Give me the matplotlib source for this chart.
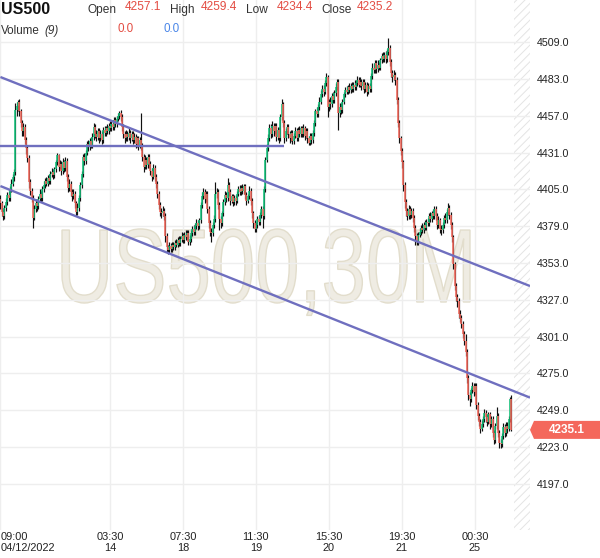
import matplotlib
matplotlib.use("Agg")
import matplotlib.pyplot as plt
import numpy as np
from matplotlib.font_manager import FontProperties
from matplotlib.patches import PathPatch, Polygon
from matplotlib.textpath import TextPath
from matplotlib.transforms import Affine2D, blended_transform_factory

plt.rcParams["font.family"] = ["Liberation Sans", "DejaVu Sans"]
plt.rcParams["hatch.linewidth"] = 0.7

# US500 30-minute bars, 12 Apr 2022 09:00 onwards
opens = [
    4398, 4395, 4389, 4386, 4392, 4396, 4401, 4399, 4405, 4409,
    4414, 4417, 4461, 4464, 4467, 4460, 4452, 4446, 4449, 4440,
    4434, 4427, 4410, 4404, 4399, 4385, 4391, 4395, 4393, 4398,
    4402, 4399, 4405, 4408, 4411, 4409, 4413, 4411, 4416, 4417,
    4415, 4419, 4424, 4429, 4421, 4423, 4418, 4424, 4420, 4425,
    4414, 4406, 4409, 4403, 4400, 4402, 4395, 4389, 4392, 4399,
    4408, 4416, 4428, 4425, 4431, 4437, 4435, 4439, 4436, 4442,
    4449, 4444, 4442, 4446, 4441, 4444, 4440, 4447, 4445, 4448,
    4446, 4450, 4448, 4451, 4449, 4454, 4451, 4455, 4457, 4459,
    4456, 4449, 4444, 4441, 4444, 4442, 4445, 4441, 4444, 4440,
    4442, 4437, 4441, 4436, 4440, 4436, 4428, 4421, 4426, 4422,
    4428, 4423, 4418, 4414, 4420, 4414, 4409, 4402, 4394, 4389,
    4388, 4390, 4386, 4372, 4364, 4362, 4365, 4363, 4366, 4364,
    4367, 4366, 4369, 4367, 4370, 4372, 4369, 4373, 4371, 4374,
    4368, 4370, 4374, 4377, 4375, 4379, 4381, 4379, 4383, 4394,
    4400, 4403, 4398, 4402, 4391, 4381, 4375, 4374, 4380, 4384,
    4402, 4403, 4394, 4384, 4381, 4388, 4396, 4401, 4399, 4408,
    4403, 4397, 4400, 4396, 4399, 4397, 4402, 4405, 4403, 4406,
    4404, 4407, 4401, 4397, 4400, 4404, 4397, 4388, 4381, 4377,
    4380, 4384, 4382, 4387, 4391, 4386, 4405, 4426, 4434, 4441,
    4448, 4444, 4450, 4446, 4450, 4442, 4447, 4441, 4456, 4465,
    4452, 4441, 4446, 4449, 4444, 4441, 4445, 4439, 4443, 4446,
    4441, 4447, 4444, 4448, 4444, 4448, 4443, 4446, 4441, 4438,
    4443, 4440, 4445, 4452, 4460, 4458, 4463, 4467, 4472, 4476,
    4474, 4480, 4484, 4463, 4467, 4465, 4471, 4468, 4473, 4477,
    4481, 4459, 4463, 4461, 4467, 4472, 4475, 4474, 4477, 4475,
    4478, 4476, 4479, 4477, 4480, 4482, 4479, 4481, 4478, 4481,
    4476, 4479, 4474, 4478, 4476, 4485, 4491, 4489, 4494, 4490,
    4493, 4491, 4496, 4499, 4497, 4500, 4497, 4502, 4505, 4495,
    4487, 4484, 4486, 4482, 4468, 4452, 4441, 4432, 4424, 4408,
    4396, 4390, 4386, 4391, 4387, 4390, 4385, 4378, 4372, 4368,
    4373, 4375, 4378, 4376, 4380, 4378, 4382, 4381, 4386, 4384,
    4388, 4386, 4391, 4386, 4380, 4383, 4377, 4376, 4380, 4385,
    4383, 4389, 4392, 4387, 4380, 4371, 4352, 4337, 4329, 4326,
    4317, 4314, 4310, 4303, 4298, 4290, 4272, 4260, 4257, 4263,
    4266, 4262, 4266, 4253, 4245, 4241, 4236, 4239, 4243, 4247,
    4244, 4241, 4246, 4239, 4243, 4233, 4228, 4238, 4245, 4233,
    4226, 4225, 4231, 4237, 4233, 4238, 4236, 4243, 4257.1,
]
highs = [
    4401, 4397, 4391, 4394, 4399, 4403, 4404, 4407, 4412, 4416,
    4419, 4466, 4467, 4468, 4469, 4462, 4454, 4452, 4451, 4442,
    4436, 4429, 4412, 4406, 4401, 4394, 4398, 4397, 4400, 4405,
    4404, 4407, 4411, 4413, 4414, 4415, 4416, 4418, 4420, 4419,
    4421, 4426, 4431, 4430, 4426, 4425, 4427, 4426, 4428, 4427,
    4416, 4412, 4411, 4405, 4405, 4404, 4397, 4395, 4401, 4410,
    4418, 4430, 4431, 4433, 4439, 4440, 4441, 4442, 4445, 4452,
    4451, 4447, 4448, 4448, 4447, 4446, 4449, 4450, 4450, 4451,
    4452, 4453, 4453, 4454, 4456, 4456, 4457, 4459, 4460, 4461,
    4458, 4451, 4446, 4447, 4446, 4448, 4447, 4446, 4446, 4445,
    4444, 4443, 4443, 4442, 4459, 4438, 4430, 4429, 4428, 4430,
    4430, 4425, 4420, 4423, 4422, 4416, 4411, 4404, 4396, 4392,
    4393, 4392, 4388, 4374, 4366, 4368, 4367, 4368, 4368, 4369,
    4370, 4371, 4372, 4372, 4375, 4374, 4375, 4376, 4376, 4376,
    4373, 4376, 4379, 4380, 4381, 4384, 4383, 4385, 4396, 4403,
    4406, 4405, 4404, 4404, 4393, 4383, 4378, 4382, 4387, 4410,
    4406, 4405, 4396, 4386, 4390, 4398, 4404, 4403, 4413, 4410,
    4405, 4402, 4402, 4401, 4401, 4404, 4407, 4408, 4408, 4409,
    4409, 4409, 4403, 4402, 4407, 4406, 4399, 4390, 4383, 4382,
    4386, 4387, 4389, 4393, 4393, 4407, 4428, 4437, 4444, 4451,
    4451, 4453, 4452, 4452, 4452, 4449, 4449, 4458, 4469, 4467,
    4454, 4448, 4451, 4451, 4446, 4447, 4447, 4445, 4449, 4448,
    4449, 4450, 4450, 4450, 4451, 4450, 4448, 4448, 4443, 4445,
    4445, 4447, 4454, 4462, 4463, 4465, 4470, 4475, 4479, 4479,
    4482, 4487, 4486, 4469, 4470, 4473, 4474, 4475, 4480, 4483,
    4483, 4466, 4466, 4469, 4474, 4477, 4478, 4479, 4480, 4480,
    4481, 4481, 4482, 4482, 4485, 4484, 4484, 4483, 4483, 4483,
    4481, 4481, 4480, 4480, 4487, 4494, 4494, 4496, 4496, 4496,
    4495, 4498, 4501, 4502, 4502, 4503, 4504, 4512, 4507, 4497,
    4489, 4489, 4488, 4484, 4470, 4454, 4443, 4434, 4426, 4410,
    4398, 4392, 4394, 4393, 4392, 4392, 4387, 4380, 4374, 4375,
    4378, 4380, 4381, 4382, 4383, 4384, 4385, 4388, 4389, 4390,
    4391, 4393, 4393, 4388, 4386, 4385, 4380, 4382, 4387, 4388,
    4391, 4395, 4394, 4389, 4382, 4373, 4354, 4339, 4331, 4328,
    4320, 4316, 4312, 4305, 4303, 4292, 4274, 4262, 4265, 4269,
    4268, 4268, 4268, 4255, 4247, 4243, 4242, 4245, 4250, 4249,
    4246, 4248, 4248, 4245, 4245, 4235, 4240, 4251, 4247, 4235,
    4229, 4233, 4240, 4239, 4241, 4241, 4245, 4258, 4259.4,
]
lows = [
    4391, 4386, 4383, 4384, 4390, 4394, 4397, 4397, 4403, 4407,
    4411, 4415, 4457, 4460, 4457, 4449, 4443, 4443, 4437, 4430,
    4424, 4406, 4401, 4396, 4378, 4383, 4389, 4390, 4391, 4396,
    4396, 4397, 4403, 4406, 4407, 4407, 4409, 4409, 4414, 4412,
    4413, 4417, 4422, 4418, 4419, 4415, 4416, 4417, 4418, 4411,
    4403, 4404, 4400, 4397, 4398, 4392, 4386, 4387, 4390, 4397,
    4406, 4414, 4422, 4423, 4429, 4432, 4433, 4434, 4434, 4440,
    4441, 4439, 4440, 4438, 4439, 4437, 4438, 4443, 4443, 4444,
    4444, 4446, 4446, 4447, 4447, 4449, 4449, 4453, 4455, 4453,
    4446, 4441, 4438, 4439, 4439, 4440, 4438, 4439, 4437, 4438,
    4434, 4435, 4433, 4434, 4433, 4425, 4417, 4419, 4419, 4420,
    4420, 4415, 4411, 4412, 4411, 4406, 4399, 4391, 4386, 4385,
    4386, 4383, 4368, 4361, 4359, 4360, 4361, 4361, 4362, 4362,
    4364, 4364, 4365, 4365, 4368, 4367, 4367, 4369, 4369, 4366,
    4366, 4368, 4372, 4373, 4373, 4377, 4376, 4377, 4381, 4392,
    4398, 4395, 4396, 4388, 4378, 4372, 4368, 4372, 4378, 4382,
    4399, 4391, 4376, 4378, 4379, 4386, 4394, 4396, 4397, 4400,
    4394, 4395, 4393, 4394, 4394, 4395, 4400, 4401, 4401, 4402,
    4402, 4398, 4394, 4395, 4398, 4394, 4385, 4378, 4375, 4375,
    4378, 4380, 4380, 4385, 4378, 4384, 4403, 4424, 4432, 4439,
    4441, 4442, 4443, 4444, 4439, 4440, 4438, 4439, 4454, 4449,
    4438, 4439, 4444, 4441, 4438, 4439, 4437, 4437, 4441, 4439,
    4439, 4442, 4442, 4442, 4442, 4440, 4441, 4438, 4436, 4436,
    4437, 4438, 4443, 4450, 4456, 4456, 4461, 4465, 4470, 4471,
    4472, 4478, 4456, 4460, 4462, 4463, 4466, 4466, 4471, 4475,
    4447, 4456, 4458, 4459, 4465, 4470, 4472, 4472, 4473, 4473,
    4474, 4474, 4475, 4475, 4478, 4477, 4477, 4475, 4476, 4473,
    4474, 4471, 4472, 4474, 4474, 4483, 4487, 4487, 4487, 4488,
    4489, 4489, 4494, 4495, 4495, 4494, 4495, 4500, 4492, 4484,
    4481, 4482, 4479, 4465, 4449, 4438, 4429, 4420, 4404, 4392,
    4386, 4383, 4384, 4384, 4385, 4382, 4375, 4366, 4366, 4366,
    4371, 4373, 4374, 4374, 4376, 4376, 4379, 4379, 4382, 4382,
    4384, 4384, 4383, 4377, 4378, 4374, 4373, 4374, 4378, 4381,
    4381, 4387, 4384, 4377, 4368, 4349, 4334, 4326, 4322, 4314,
    4311, 4307, 4300, 4295, 4287, 4268, 4256, 4252, 4255, 4261,
    4259, 4260, 4250, 4242, 4238, 4233, 4234, 4237, 4241, 4241,
    4238, 4239, 4236, 4237, 4230, 4225, 4226, 4236, 4230, 4222,
    4222, 4223, 4229, 4230, 4231, 4233, 4234, 4241, 4234.4,
]
closes = [
    4395, 4389, 4386, 4392, 4396, 4401, 4399, 4405, 4409, 4414,
    4417, 4461, 4464, 4467, 4460, 4452, 4446, 4449, 4440, 4434,
    4427, 4410, 4404, 4399, 4385, 4391, 4395, 4393, 4398, 4402,
    4399, 4405, 4408, 4411, 4409, 4413, 4411, 4416, 4417, 4415,
    4419, 4424, 4429, 4421, 4423, 4418, 4424, 4420, 4425, 4414,
    4406, 4409, 4403, 4400, 4402, 4395, 4389, 4392, 4399, 4408,
    4416, 4428, 4425, 4431, 4437, 4435, 4439, 4436, 4442, 4449,
    4444, 4442, 4446, 4441, 4444, 4440, 4447, 4445, 4448, 4446,
    4450, 4448, 4451, 4449, 4454, 4451, 4455, 4457, 4459, 4456,
    4449, 4444, 4441, 4444, 4442, 4445, 4441, 4444, 4440, 4442,
    4437, 4441, 4436, 4440, 4436, 4428, 4421, 4426, 4422, 4428,
    4423, 4418, 4414, 4420, 4414, 4409, 4402, 4394, 4389, 4388,
    4390, 4386, 4372, 4364, 4362, 4365, 4363, 4366, 4364, 4367,
    4366, 4369, 4367, 4370, 4372, 4369, 4373, 4371, 4374, 4368,
    4370, 4374, 4377, 4375, 4379, 4381, 4379, 4383, 4394, 4400,
    4403, 4398, 4402, 4391, 4381, 4375, 4374, 4380, 4384, 4402,
    4403, 4394, 4384, 4381, 4388, 4396, 4401, 4399, 4408, 4403,
    4397, 4400, 4396, 4399, 4397, 4402, 4405, 4403, 4406, 4404,
    4407, 4401, 4397, 4400, 4404, 4397, 4388, 4381, 4377, 4380,
    4384, 4382, 4387, 4391, 4386, 4405, 4426, 4434, 4441, 4448,
    4444, 4450, 4446, 4450, 4442, 4447, 4441, 4456, 4465, 4452,
    4441, 4446, 4449, 4444, 4441, 4445, 4439, 4443, 4446, 4441,
    4447, 4444, 4448, 4444, 4448, 4443, 4446, 4441, 4438, 4443,
    4440, 4445, 4452, 4460, 4458, 4463, 4467, 4472, 4476, 4474,
    4480, 4484, 4463, 4467, 4465, 4471, 4468, 4473, 4477, 4481,
    4459, 4463, 4461, 4467, 4472, 4475, 4474, 4477, 4475, 4478,
    4476, 4479, 4477, 4480, 4482, 4479, 4481, 4478, 4481, 4476,
    4479, 4474, 4478, 4476, 4485, 4491, 4489, 4494, 4490, 4493,
    4491, 4496, 4499, 4497, 4500, 4497, 4502, 4505, 4495, 4487,
    4484, 4486, 4482, 4468, 4452, 4441, 4432, 4424, 4408, 4396,
    4390, 4386, 4391, 4387, 4390, 4385, 4378, 4372, 4368, 4373,
    4375, 4378, 4376, 4380, 4378, 4382, 4381, 4386, 4384, 4388,
    4386, 4391, 4386, 4380, 4383, 4377, 4376, 4380, 4385, 4383,
    4389, 4392, 4387, 4380, 4371, 4352, 4337, 4329, 4326, 4317,
    4314, 4310, 4303, 4298, 4290, 4272, 4260, 4257, 4263, 4266,
    4262, 4266, 4253, 4245, 4241, 4236, 4239, 4243, 4247, 4244,
    4241, 4246, 4239, 4243, 4233, 4228, 4238, 4245, 4233, 4226,
    4225, 4231, 4237, 4233, 4238, 4236, 4243, 4257.1, 4235.2,
]

# time axis: bar index of each labelled time, and the two-line labels
tick_bars = [0, 81, 135, 189, 243, 297, 351]
tick_times = ["09:00", "03:30", "07:30", "11:30", "15:30", "19:30", "00:30"]
tick_dates = ["04/12/2022", "14", "18", "19", "20", "21", "25"]

price_ticks = [4197.0, 4223.0, 4249.0, 4275.0, 4301.0, 4327.0, 4353.0,
               4379.0, 4405.0, 4431.0, 4457.0, 4483.0, 4509.0]

# drawn trend lines: (bar, price) anchors
upper_line = [(0.0, 4484.3), (391.7, 4336.7)]
lower_line = [(0.0, 4407.3), (391.7, 4257.9)]
level_line = [(0.0, 4435.6), (210.0, 4435.6)]

header = [("Open", "4257.1"), ("High", "4259.4"), ("Low", "4234.4"), ("Close", "4235.2")]
last_price = 4235.1

GREEN = "#14c47c"
RED = "#f4685c"
LINE = "#6f6fbf"
W, H = 600, 558


def px(x, y):
    return x / W, 1 - y / H


fig = plt.figure(figsize=(W / 100, H / 100), dpi=100, facecolor="white")
ax = fig.add_axes([0, 28 / H, 530 / W, 530 / H])

o = np.array(opens, dtype=float)
h = np.array(highs, dtype=float)
lo = np.array(lows, dtype=float)
c = np.array(closes, dtype=float)
idx = np.arange(len(c))
up = c >= o

ax.set_xlim(-0.3, 391.7)
ax.set_ylim(4164.4, 4538.7)

# watermark
fp = FontProperties(family="Liberation Sans")
wm = TextPath((0, 0), "US500,30M", size=100, prop=fp)
cap_h = TextPath((0, 0), "U", size=100, prop=fp).get_extents().height
ext = wm.get_extents()
wm_tr = (Affine2D().translate(-ext.x0, 0)
         .scale(408 / ext.width / W, 73 / cap_h / H)
         .translate(62 / W, (H - 302) / H))
ax.add_patch(PathPatch(wm_tr.transform_path(wm), transform=fig.transFigure,
                       facecolor="#efece3", edgecolor="#e2ddcc", lw=1.0, zorder=0.2))

# future area hatch
ax.axvspan(380.0, 391.7, facecolor="none", edgecolor="#e4e4e4", hatch="////", lw=0, zorder=0.3)

ax.vlines(idx, lo, h, color="#111111", lw=0.85, zorder=2)
ax.vlines(idx[up], o[up], c[up], color=GREEN, lw=1.15, zorder=3)
ax.vlines(idx[~up], o[~up], c[~up], color=RED, lw=1.15, zorder=3)

for line in (upper_line, lower_line, level_line):
    xs, ys = zip(*line)
    ax.plot(xs, ys, color=LINE, lw=1.7, zorder=4, solid_capstyle="butt")

ax.set_xticks(tick_bars)
ax.set_yticks(price_ticks)
ax.set_yticklabels([f"{v:.1f}" for v in price_ticks])
ax.yaxis.tick_right()
ax.grid(True, color="#eeeeee", lw=1.0)
ax.set_axisbelow(True)
ax.tick_params(axis="x", length=0, labelbottom=False)
ax.tick_params(axis="y", length=0, pad=5, labelsize=7.7, labelcolor="#222222")
for s in ax.spines.values():
    s.set_visible(False)

tb = blended_transform_factory(ax.transData, fig.transFigure)
for i, (b, t, d) in enumerate(zip(tick_bars, tick_times, tick_dates)):
    ha = "left" if i == 0 else "center"
    ax.text(b, 1 - 537 / H, t, transform=tb, ha=ha, va="center", fontsize=7.9, color="#222222", clip_on=False)
    ax.text(b, 1 - 548 / H, d, transform=tb, ha=ha, va="center", fontsize=7.9, color="#222222", clip_on=False)

# last price tag
tt = blended_transform_factory(ax.transAxes, ax.transData)
half = 9 / 1.416
tag = Polygon([(1.0, last_price), (534 / 530, last_price + half), (600 / 530, last_price + half),
               (600 / 530, last_price - half), (534 / 530, last_price - half)],
              closed=True, transform=tt, facecolor=RED, edgecolor="none", clip_on=False, zorder=5)
ax.add_patch(tag)
ax.text(567 / 530, last_price, f"{last_price:.1f}", transform=tt, ha="center", va="center",
        fontsize=8.5, fontweight="bold", color="white", clip_on=False, zorder=6)

# header
fig.text(*px(1, 13.5), "US500", fontsize=11.5, fontweight="bold", color="#111111", va="baseline")
label_x = [88, 170, 246, 321]
value_x = [125, 201, 277, 357]
for (lab, val), lx, vx in zip(header, label_x, value_x):
    fig.text(*px(lx, 12.8), lab, fontsize=8.6, color="#333333", va="baseline")
    fig.text(*px(vx, 10.2), val, fontsize=8.6, color="#e34c42", va="baseline")
fig.text(*px(1, 34), "Volume", fontsize=8.4, color="#333333", va="baseline")
fig.text(*px(44, 34), "(9)", fontsize=8.4, color="#333333", va="baseline", style="italic")
fig.text(*px(117, 32), "0.0", fontsize=8.4, color="#e34c42", va="baseline")
fig.text(*px(163, 32), "0.0", fontsize=8.4, color="#4a86e8", va="baseline")

fig.savefig("out.png", dpi=100, facecolor="white")
